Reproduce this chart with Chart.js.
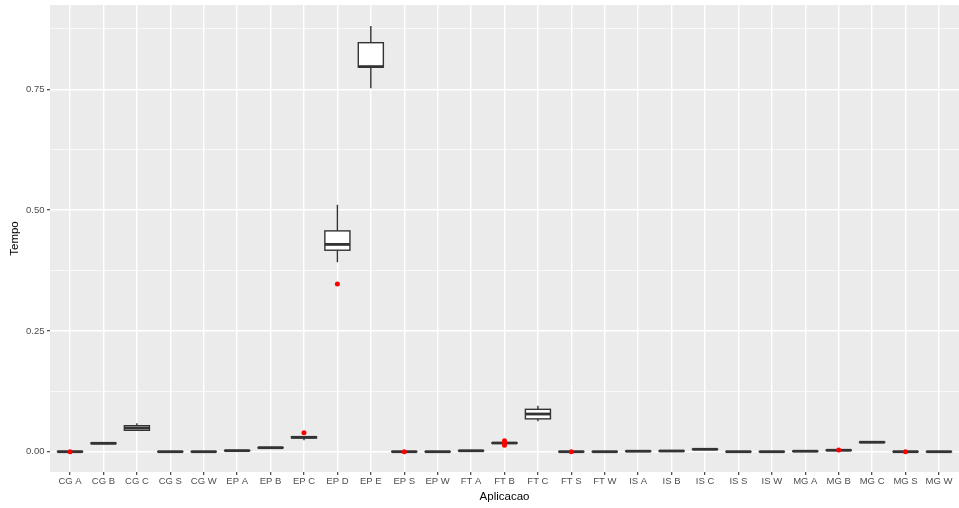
<!DOCTYPE html>
<html>
<head>
<meta charset="utf-8">
<script src="https://cdn.jsdelivr.net/npm/chart.js@4"></script>
<style>
  body { margin: 0; background: #ffffff; }
</style>
</head>
<body>
<canvas id="grafico" width="959" height="508"></canvas>
<script>
// categorias do eixo x
const categorias = ["CG A", "CG B", "CG C", "CG S", "CG W",
    "EP A", "EP B", "EP C", "EP D", "EP E", "EP S", "EP W",
    "FT A", "FT B", "FT C", "FT S", "FT W",
    "IS A", "IS B", "IS C", "IS S", "IS W",
    "MG A", "MG B", "MG C", "MG S", "MG W"];

// estatisticas de cada caixa
const bigodeInf = [0.000, 0.0165, 0.0435, 0.000, 0.000, 0.0018, 0.0078, 0.0236, 0.392, 0.752, 0.000, 0.000,
    0.0015, 0.0170, 0.063, 0.000, 0.000, 0.0005, 0.0010, 0.0045, 0.000, 0.000, 0.0005, 0.0025, 0.0190, 0.000, 0.000];
const quartil1 = [0.000, 0.0168, 0.0443, 0.000, 0.000, 0.0020, 0.0080, 0.0285, 0.417, 0.796, 0.000, 0.000,
    0.0018, 0.0175, 0.068, 0.000, 0.000, 0.0008, 0.0013, 0.0048, 0.000, 0.000, 0.0008, 0.0028, 0.0193, 0.000, 0.000];
const mediana = [0.000, 0.0174, 0.0490, 0.000, 0.000, 0.0022, 0.0083, 0.0298, 0.429, 0.797, 0.000, 0.000,
    0.0020, 0.0180, 0.078, 0.000, 0.000, 0.0010, 0.0015, 0.0050, 0.000, 0.000, 0.0010, 0.0030, 0.0196, 0.000, 0.000];
const quartil3 = [0.0005, 0.0180, 0.0538, 0.0002, 0.0002, 0.0025, 0.0086, 0.0310, 0.457, 0.8465, 0.0003, 0.0002,
    0.0023, 0.0186, 0.0877, 0.0003, 0.0002, 0.0012, 0.0018, 0.0053, 0.0002, 0.0002, 0.0012, 0.0033, 0.0200, 0.0003, 0.0002];
const bigodeSup = [0.0010, 0.0190, 0.0588, 0.0004, 0.0004, 0.0028, 0.0090, 0.0320, 0.511, 0.881, 0.0005, 0.0004,
    0.0025, 0.0195, 0.095, 0.0005, 0.0004, 0.0014, 0.0020, 0.0056, 0.0004, 0.0004, 0.0014, 0.0036, 0.0210, 0.0005, 0.0004];

// outliers (indice da categoria, valor)
const outlierCat = [0, 7, 8, 10, 13, 13, 13, 15, 23, 25];
const outlierValor = [0.000, 0.0393, 0.347, 0.000, 0.0228, 0.0195, 0.0135, 0.000, 0.0035, 0.000];

// ticks do eixo y
const ticksY = [0, 0.125, 0.25, 0.375, 0.5, 0.625, 0.75, 0.875];

const ehMaior = v => Math.abs(v / 0.25 - Math.round(v / 0.25)) < 1e-6;

// fundo cinza do painel
const fundoPainel = {
    id: "fundoPainel",
    beforeDraw(chart) {
        const { ctx, chartArea: a } = chart;
        ctx.save();
        ctx.fillStyle = "#EBEBEB";
        ctx.fillRect(a.left, a.top, a.right - a.left, a.bottom - a.top);
        ctx.restore();
    }
};

// caixas desenhadas pelas escalas do chart
const caixas = {
    id: "caixas",
    beforeDatasetsDraw(chart) {
        const { ctx, scales: { x, y } } = chart;
        const larg = (x.getPixelForValue(1) - x.getPixelForValue(0)) * 0.75;
        ctx.save();
        ctx.strokeStyle = "#333333";
        categorias.forEach((c, i) => {
            const cx = x.getPixelForValue(i);
            const yLo = y.getPixelForValue(bigodeInf[i]);
            const yQ1 = y.getPixelForValue(quartil1[i]);
            const yMed = y.getPixelForValue(mediana[i]);
            const yQ3 = y.getPixelForValue(quartil3[i]);
            const yHi = y.getPixelForValue(bigodeSup[i]);

            ctx.lineWidth = 1.4;
            ctx.beginPath();
            ctx.moveTo(cx, yQ3); ctx.lineTo(cx, yHi);
            ctx.moveTo(cx, yQ1); ctx.lineTo(cx, yLo);
            ctx.stroke();

            ctx.fillStyle = "#FFFFFF";
            ctx.fillRect(cx - larg / 2, yQ3, larg, yQ1 - yQ3);
            ctx.strokeRect(cx - larg / 2, yQ3, larg, yQ1 - yQ3);

            ctx.lineWidth = 2.8;
            ctx.beginPath();
            ctx.moveTo(cx - larg / 2, yMed); ctx.lineTo(cx + larg / 2, yMed);
            ctx.stroke();
        });
        ctx.restore();
    }
};

new Chart(document.getElementById("grafico"), {
    type: "scatter",
    data: {
        datasets: [{
            label: "outliers",
            data: outlierCat.map((c, i) => ({ x: c, y: outlierValor[i] })),
            backgroundColor: "#FF0000",
            borderWidth: 0,
            pointRadius: 2.5
        }]
    },
    options: {
        responsive: false,
        animation: false,
        layout: { autoPadding: false, padding: { top: 5, right: 0, left: 0, bottom: 0 } },
        plugins: {
            legend: { display: false },
            tooltip: { enabled: false }
        },
        scales: {
            x: {
                type: "linear",
                min: -0.6,
                max: categorias.length - 0.4,
                afterBuildTicks: s => { s.ticks = categorias.map((c, i) => ({ value: i })); },
                afterFit: s => { s.height = 36; s.paddingLeft = 0; s.paddingRight = 0; },
                border: { display: false },
                grid: {
                    color: "#FFFFFF",
                    lineWidth: 1.4,
                    tickColor: "#333333",
                    tickWidth: 1.1,
                    tickLength: 3
                },
                ticks: {
                    autoSkip: false,
                    maxRotation: 0,
                    padding: 1,
                    color: "#4D4D4D",
                    font: { family: "Liberation Sans", size: 9.5 },
                    callback: v => categorias[v]
                },
                title: {
                    display: true,
                    text: "Aplicacao",
                    color: "#000000",
                    font: { family: "Liberation Sans", size: 11.5 },
                    padding: { top: 0, bottom: 4.4 }
                }
            },
            y: {
                min: -0.042,
                max: 0.9245,
                afterBuildTicks: s => { s.ticks = ticksY.map(v => ({ value: v })); },
                afterFit: s => { s.width = 50; s.paddingTop = 0; s.paddingBottom = 0; },
                border: { display: false },
                grid: {
                    color: "#FFFFFF",
                    lineWidth: ctx => ehMaior(ctx.tick.value) ? 1.4 : 0.7,
                    tickColor: ctx => ehMaior(ctx.tick.value) ? "#333333" : "rgba(0,0,0,0)",
                    tickWidth: 1.1,
                    tickLength: 3
                },
                ticks: {
                    padding: 2.5,
                    color: "#4D4D4D",
                    font: { family: "Liberation Sans", size: 9.5 },
                    callback: v => ehMaior(v) ? v.toFixed(2) : ""
                },
                title: {
                    display: true,
                    text: "Tempo",
                    color: "#000000",
                    font: { family: "Liberation Sans", size: 11.5 },
                    padding: { top: 8.4, bottom: 0 }
                }
            }
        }
    },
    plugins: [fundoPainel, caixas]
});
</script>
</body>
</html>
